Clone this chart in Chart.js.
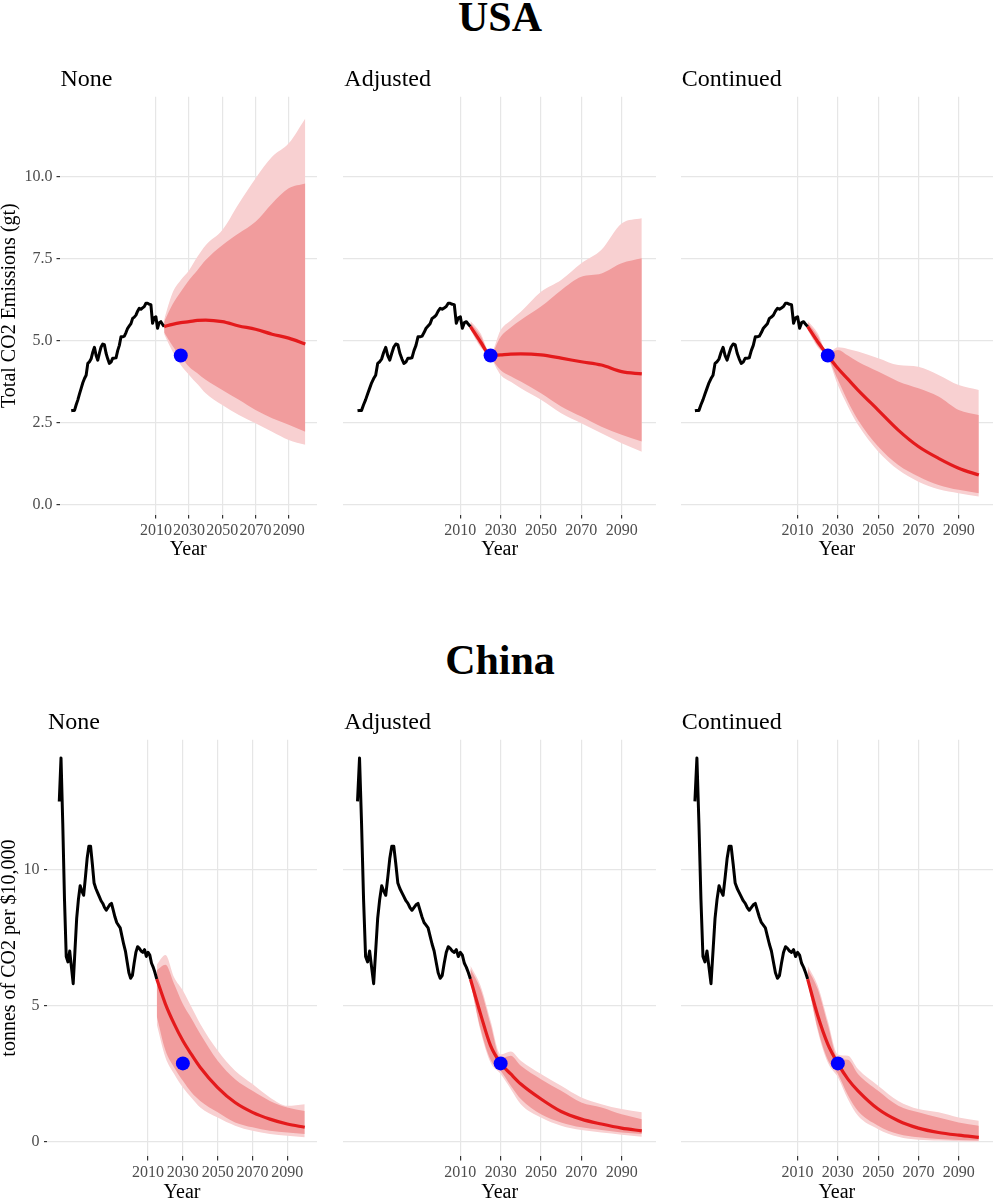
<!DOCTYPE html>
<html>
<head>
<meta charset="utf-8">
<script src="https://cdn.jsdelivr.net/npm/chart.js@4.4.1/dist/chart.umd.min.js"></script>
<style>
  html, body { margin: 0; padding: 0; background: #fff; }
  body { width: 1000px; height: 1200px; position: relative; overflow: hidden; font-family: 'Liberation Serif', serif; }
  .country { position: absolute; left: 0; width: 1000px; text-align: center; font-weight: bold; font-size: 42px; line-height: 42px; }
  canvas { position: absolute; }
</style>
</head>
<body>
<div class="country" style="top:-4px">USA</div>
<div class="country" style="top:638.6px">China</div>

<script>
// ---- data ----
const histYears = [1959, 1960, 1961, 1962, 1963, 1964, 1965, 1966, 1967, 1968,
  1969, 1970, 1971, 1972, 1973, 1974, 1975, 1976, 1977, 1978,
  1979, 1980, 1981, 1982, 1983, 1984, 1985, 1986, 1987, 1988,
  1989, 1990, 1991, 1992, 1993, 1994, 1995, 1996, 1997, 1998,
  1999, 2000, 2001, 2002, 2003, 2004, 2005, 2006, 2007, 2008,
  2009, 2010, 2011, 2012, 2013, 2014, 2015];

const usaHist = [2.87, 2.88, 2.88, 3.05, 3.20, 3.38, 3.55, 3.72, 3.85, 3.95,
  4.31, 4.36, 4.45, 4.65, 4.80, 4.55, 4.41, 4.62, 4.81, 4.90,
  4.88, 4.62, 4.45, 4.31, 4.35, 4.47, 4.47, 4.48, 4.70, 4.86,
  5.12, 5.12, 5.14, 5.25, 5.38, 5.45, 5.52, 5.68, 5.72, 5.78,
  5.90, 5.99, 5.96, 6.00, 6.04, 6.14, 6.14, 6.11, 6.10, 5.53,
  5.70, 5.73, 5.38, 5.55, 5.58, 5.50, 5.43];

const chinaHist = [12.5, 14.1, 11.7, 8.9, 6.8, 6.6, 7.0, 6.4, 5.8, 7.0,
  8.2, 8.9, 9.4, 9.2, 9.05, 9.7, 10.4, 10.85, 10.85, 10.2,
  9.5, 9.3, 9.15, 9.0, 8.85, 8.75, 8.6, 8.5, 8.6, 8.7,
  8.75, 8.5, 8.25, 8.05, 7.95, 7.85, 7.55, 7.25, 7.0, 6.6,
  6.2, 6.0, 6.1, 6.55, 6.95, 7.16, 7.1, 7.0, 6.95, 7.05,
  6.8, 6.95, 6.85, 6.55, 6.4, 6.2, 5.97];

const projYears = [2015, 2020, 2025, 2030, 2035, 2040, 2050, 2060, 2070, 2080, 2090, 2100];

// USA - None
const usaNoneMid   = [5.43, 5.50, 5.55, 5.58, 5.62, 5.63, 5.58, 5.45, 5.35, 5.20, 5.08, 4.90];
const usaNoneOutHi = [5.65, 6.45, 6.85, 7.15, 7.56, 7.91, 8.37, 9.18, 9.94, 10.60, 11.01, 11.77];
const usaNoneInHi  = [5.58, 6.10, 6.49, 6.85, 7.15, 7.46, 7.91, 8.27, 8.62, 9.18, 9.64, 9.79];
const usaNoneInLo  = [5.25, 4.85, 4.52, 4.21, 4.01, 3.81, 3.50, 3.20, 2.89, 2.64, 2.44, 2.23];
const usaNoneOutLo = [5.20, 4.68, 4.26, 3.96, 3.68, 3.40, 3.04, 2.74, 2.49, 2.23, 1.98, 1.83];
// USA - Adjusted
const usaAdjMid   = [5.43, 4.97, 4.55, 4.57, 4.59, 4.60, 4.57, 4.47, 4.36, 4.26, 4.06, 3.99];
const usaAdjOutHi = [5.60, 5.23, 4.62, 5.33, 5.62, 5.88, 6.49, 6.85, 7.36, 7.77, 8.57, 8.73];
const usaAdjInHi  = [5.55, 5.15, 4.60, 5.12, 5.40, 5.63, 6.04, 6.54, 6.95, 7.05, 7.36, 7.51];
const usaAdjInLo  = [5.36, 4.85, 4.50, 4.10, 3.92, 3.76, 3.40, 3.00, 2.69, 2.38, 2.14, 1.93];
const usaAdjOutLo = [5.33, 4.80, 4.48, 3.96, 3.75, 3.55, 3.20, 2.79, 2.49, 2.18, 1.88, 1.62];
// USA - Continued
const usaConMid   = [5.43, 4.97, 4.55, 4.16, 3.83, 3.50, 2.89, 2.28, 1.78, 1.42, 1.12, 0.91];
const usaConOutHi = [5.60, 5.23, 4.62, 4.80, 4.75, 4.67, 4.47, 4.26, 4.21, 3.96, 3.65, 3.50];
const usaConInHi  = [5.55, 5.15, 4.60, 4.72, 4.55, 4.36, 4.06, 3.76, 3.55, 3.30, 2.89, 2.74];
const usaConInLo  = [5.36, 4.85, 4.50, 3.81, 3.15, 2.59, 1.78, 1.22, 0.87, 0.61, 0.46, 0.36];
const usaConOutLo = [5.33, 4.80, 4.48, 3.65, 3.00, 2.44, 1.63, 1.07, 0.71, 0.48, 0.36, 0.26];

// China - None
const chinaNoneMid   = [5.97, 5.05, 4.32, 3.70, 3.19, 2.72, 1.98, 1.43, 1.07, 0.82, 0.64, 0.52];
const chinaNoneOutHi = [6.50, 6.85, 6.03, 5.55, 4.93, 4.32, 3.34, 2.60, 2.11, 1.62, 1.31, 1.37];
const chinaNoneInHi  = [6.30, 6.50, 5.79, 5.05, 4.51, 3.95, 2.97, 2.29, 1.86, 1.49, 1.25, 1.12];
const chinaNoneInLo  = [4.60, 3.34, 2.72, 2.23, 1.80, 1.49, 1.07, 0.70, 0.52, 0.39, 0.33, 0.27];
const chinaNoneOutLo = [4.30, 3.09, 2.48, 1.98, 1.60, 1.25, 0.88, 0.58, 0.39, 0.27, 0.21, 0.15];
// China - Adjusted
const chinaAdjMid   = [5.97, 4.69, 3.52, 2.87, 2.48, 2.11, 1.56, 1.10, 0.82, 0.64, 0.49, 0.39];
const chinaAdjOutHi = [6.47, 5.73, 4.44, 3.20, 3.31, 2.97, 2.48, 2.05, 1.62, 1.37, 1.19, 1.07];
const chinaAdjInHi  = [6.35, 5.60, 4.30, 3.05, 3.15, 2.78, 2.29, 1.86, 1.43, 1.25, 1.00, 0.82];
const chinaAdjInLo  = [5.91, 4.15, 3.00, 2.60, 2.05, 1.56, 1.00, 0.70, 0.52, 0.42, 0.33, 0.27];
const chinaAdjOutLo = [5.85, 4.07, 2.90, 2.48, 1.93, 1.37, 0.88, 0.58, 0.42, 0.33, 0.25, 0.17];
// China - Continued
const chinaConMid   = [5.97, 4.63, 3.58, 2.87, 2.29, 1.86, 1.19, 0.76, 0.49, 0.33, 0.23, 0.15];
const chinaConOutHi = [6.47, 5.73, 4.44, 3.20, 3.15, 2.66, 2.05, 1.49, 1.19, 1.07, 0.88, 0.76];
const chinaConInHi  = [6.35, 5.60, 4.30, 3.05, 3.00, 2.48, 1.86, 1.31, 1.07, 0.88, 0.70, 0.58];
const chinaConInLo  = [5.91, 4.15, 3.00, 2.48, 1.70, 1.12, 0.58, 0.27, 0.15, 0.09, 0.05, 0.03];
const chinaConOutLo = [5.85, 4.07, 2.90, 2.36, 1.55, 0.94, 0.45, 0.17, 0.06, 0.03, 0.01, 0.00];

// target points (blue dots)
const usaTargetYear = 2025, usaTargetValue = 4.55;
const chinaTargetYear = 2030, chinaTargetValue = 2.87;

const xTickYears = [2010, 2030, 2050, 2070, 2090];
const usaYTicks = [0, 2.5, 5, 7.5, 10];
const chinaYTicks = [0, 5, 10];
const scenarioNames = ['None', 'Adjusted', 'Continued'];

// ---- drawing ----
const FONT = "'Liberation Serif', serif";
const GRID = '#e6e6e6';

const panelLabel = {
  id: 'panelLabel',
  afterDraw(chart, args, opts) {
    const { ctx, chartArea } = chart;
    ctx.save();
    ctx.font = "24px 'Liberation Serif'";
    ctx.fillStyle = '#000';
    ctx.textBaseline = 'alphabetic';
    ctx.fillText(opts.text, chartArea.left + 1, chartArea.top - 10.8);
    ctx.restore();
  }
};

function pts(xs, ys) {
  return xs.map((x, i) => ({ x: x, y: ys[i] }));
}

function makePanel(cfg) {
  const cv = document.createElement('canvas');
  cv.width = cfg.width;
  cv.height = cfg.height;
  cv.style.left = cfg.left + 'px';
  cv.style.top = cfg.top + 'px';
  cv.style.width = cfg.width + 'px';
  cv.style.height = cfg.height + 'px';
  document.body.appendChild(cv);

  const first = cfg.col === 0;
  const band = { borderColor: 'transparent', borderWidth: 0, pointRadius: 0, cubicInterpolationMode: 'monotone' };

  new Chart(cv.getContext('2d'), {
    type: 'line',
    data: {
      datasets: [
        Object.assign({ data: pts(projYears, cfg.outHi), fill: '+1', backgroundColor: '#f8d0d1', order: 5 }, band),
        Object.assign({ data: pts(projYears, cfg.outLo), fill: false, order: 5 }, band),
        Object.assign({ data: pts(projYears, cfg.inHi), fill: '+1', backgroundColor: '#f19c9d', order: 4 }, band),
        Object.assign({ data: pts(projYears, cfg.inLo), fill: false, order: 4 }, band),
        { data: pts(histYears, cfg.hist), borderColor: '#000', borderWidth: 3, pointRadius: 0,
          fill: false, borderJoinStyle: 'round', order: 2 },
        { data: pts(projYears, cfg.mid), borderColor: '#e41a1c', borderWidth: 3.2, pointRadius: 0,
          fill: false, cubicInterpolationMode: 'monotone', order: 1 },
        { data: [{ x: cfg.targetYear, y: cfg.targetValue }], showLine: false, pointRadius: 7,
          pointBackgroundColor: '#0000ff', pointBorderWidth: 0, pointBorderColor: '#0000ff', order: 0 }
      ]
    },
    options: {
      responsive: false,
      animation: false,
      devicePixelRatio: 1,
      layout: { padding: { left: cfg.padLeft, right: cfg.padRight, top: cfg.padTop, bottom: 0 } },
      plugins: {
        legend: { display: false },
        tooltip: { enabled: false },
        panelLabel: { text: cfg.label }
      },
      scales: {
        x: {
          type: 'linear',
          min: 1951.95,
          max: 2107.05,
          afterBuildTicks: s => { s.ticks = xTickYears.map(v => ({ value: v })); },
          afterFit: s => { s.height = cfg.xHeight; },
          grid: { color: GRID, lineWidth: 1.2, tickColor: '#333', tickLength: 4 },
          border: { display: false },
          ticks: { autoSkip: false, maxRotation: 0, minRotation: 0, padding: 2.4, color: '#4d4d4d',
                   font: { family: FONT, size: 16 }, callback: v => String(v) },
          title: { display: true, text: 'Year', color: '#000', padding: 0,
                   font: { family: FONT, size: 20, lineHeight: 1.2 } }
        },
        y: {
          min: cfg.yMin,
          max: cfg.yMax,
          afterBuildTicks: s => { s.ticks = cfg.yTicks.map(v => ({ value: v })); },
          afterFit: s => { s.width = cfg.yWidth; },
          grid: { color: GRID, lineWidth: 1.2, tickColor: '#333', tickLength: 3, drawTicks: first },
          border: { display: false },
          ticks: { display: first, padding: cfg.yPad, color: '#4d4d4d', font: { family: FONT, size: 16 },
                   callback: v => cfg.usa ? v.toFixed(1) : String(v) },
          title: { display: first, text: cfg.yTitle, color: '#000', padding: 0,
                   font: { family: FONT, size: 20, lineHeight: 1 } }
        }
      }
    },
    plugins: [panelLabel]
  });
}

const cols = [
  { left: 0,   width: 324, padLeft: 0,    padRight: 0.5 },
  { left: 333, width: 330, padLeft: 10.3, padRight: 1.3 },
  { left: 670, width: 330, padLeft: 10.7, padRight: 1 }
];

const usaSeries = [
  [usaNoneMid, usaNoneOutHi, usaNoneInHi, usaNoneInLo, usaNoneOutLo],
  [usaAdjMid, usaAdjOutHi, usaAdjInHi, usaAdjInLo, usaAdjOutLo],
  [usaConMid, usaConOutHi, usaConInHi, usaConInLo, usaConOutLo]
];
const chinaSeries = [
  [chinaNoneMid, chinaNoneOutHi, chinaNoneInHi, chinaNoneInLo, chinaNoneOutLo],
  [chinaAdjMid, chinaAdjOutHi, chinaAdjInHi, chinaAdjInLo, chinaAdjOutLo],
  [chinaConMid, chinaConOutHi, chinaConInHi, chinaConInLo, chinaConOutLo]
];

cols.forEach((c, i) => {
  const u = usaSeries[i];
  makePanel(Object.assign({}, c, {
    col: i, usa: true, label: scenarioNames[i], top: 60, height: 502, padTop: 36.7, xHeight: 47.5,
    yWidth: i === 0 ? 59.5 : 0, yPad: 4, yMin: -0.29, yMax: 12.43, yTicks: usaYTicks,
    yTitle: 'Total CO2 Emissions (gt)', hist: usaHist,
    mid: u[0], outHi: u[1], inHi: u[2], inLo: u[3], outLo: u[4],
    targetYear: usaTargetYear, targetValue: usaTargetValue
  }));
  const ch = chinaSeries[i];
  makePanel(Object.assign({}, c, {
    col: i, usa: false, label: scenarioNames[i], top: 702.6, height: 502, padTop: 36.7, xHeight: 48.6,
    yWidth: i === 0 ? 47 : 0, yPad: 4.5, yMin: -0.55, yMax: 14.77, yTicks: chinaYTicks,
    yTitle: 'tonnes of CO2 per $10,000', hist: chinaHist,
    mid: ch[0], outHi: ch[1], inHi: ch[2], inLo: ch[3], outLo: ch[4],
    targetYear: chinaTargetYear, targetValue: chinaTargetValue
  }));
});
</script>
</body>
</html>
